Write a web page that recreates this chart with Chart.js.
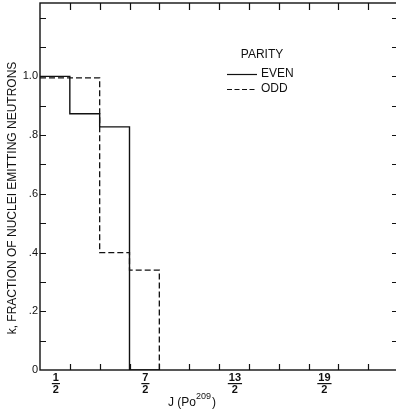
<!DOCTYPE html>
<html>
<head>
<meta charset="utf-8">
<script src="https://cdn.jsdelivr.net/npm/chart.js@4.4.1/dist/chart.umd.min.js"></script>
<style>
  html, body { margin: 0; padding: 0; background: #fff; overflow: hidden; }
  #wrap { position: absolute; left: 0; top: 0; width: 400px; height: 410px; }
</style>
</head>
<body>
<div id="wrap"><canvas id="myChart"></canvas></div>
<script>
// J values (bin centres) and fraction k for each parity
const jValues = [0.5, 1.5, 2.5, 3.5];
const evenK = [1.0, 0.873, 0.828, 0];
const oddK = [0.995, 0.995, 0.40, 0.34];

const yTickValues = [0, 0.2, 0.4, 0.6, 0.8, 1.0];
const yTickLabels = ['0', '.2', '.4', '.6', '.8', '1.0'];
const xTickValues = [0.5, 3.5, 6.5, 9.5];
const xTickNum = ['1', '7', '13', '19'];
const xTickDen = ['2', '2', '2', '2'];

const ink = '#111';
const font = '"Liberation Sans", Arial, sans-serif';

// histogram outline: each bin spans J-1/2 .. J+1/2, then drop to zero
function stepPoints(js, ks) {
    let pts = [];
    for (let i = 0; i < js.length; i++) {
        pts.push({x: js[i] - 0.5, y: ks[i]});
        pts.push({x: js[i] + 0.5, y: ks[i]});
    }
    pts.push({x: js[js.length - 1] + 0.5, y: 0});
    return pts;
}

const decorations = {
    id: 'decorations',
    afterDraw(chart) {
        const c = chart.ctx;
        const xs = chart.scales.x, ys = chart.scales.y;
        const a = chart.chartArea;
        c.save();
        c.strokeStyle = ink;
        c.fillStyle = ink;
        c.lineWidth = 1.4;
        c.setLineDash([]);
        c.strokeRect(a.left, a.top, a.right - a.left, a.bottom - a.top);

        // inward ticks
        c.lineWidth = 1.2;
        c.beginPath();
        for (let i = 1; i <= 12; i++) {
            let v = i / 10;
            let py = Math.round(ys.getPixelForValue(v)) + 0.5;
            c.moveTo(a.left, py); c.lineTo(a.left + 6, py);
            c.moveTo(a.right, py); c.lineTo(a.right - 6, py);
        }
        for (let i = 1; i < 12; i++) {
            let px = Math.round(xs.getPixelForValue(i)) + 0.5;
            c.moveTo(px, a.bottom); c.lineTo(px, a.bottom - 6);
            c.moveTo(px, a.top); c.lineTo(px, a.top + 7);
        }
        c.stroke();

        // fraction tick labels
        c.font = 'bold 11px ' + font;
        c.textAlign = 'center';
        c.textBaseline = 'middle';
        for (let i = 0; i < xTickValues.length; i++) {
            let px = xs.getPixelForValue(xTickValues[i]) + 1;
            let w = Math.max(c.measureText(xTickNum[i]).width, c.measureText(xTickDen[i]).width) + 2;
            c.fillText(xTickNum[i], px, a.bottom + 8);
            c.fillRect(px - w / 2, a.bottom + 13, w, 1.2);
            c.fillText(xTickDen[i], px, a.bottom + 20);
        }

        // x title with superscript
        c.textAlign = 'left';
        c.textBaseline = 'alphabetic';
        c.font = '12px ' + font;
        let tx = 168, ty = 406;
        c.fillText('J (Po', tx, ty);
        tx += c.measureText('J (Po').width;
        c.font = '9px ' + font;
        c.fillText('209', tx, ty - 7);
        tx += c.measureText('209').width + 1;
        c.font = '12px ' + font;
        c.fillText(')', tx, ty);

        // y title
        c.save();
        c.translate(13, 198);
        c.rotate(-Math.PI / 2);
        c.textAlign = 'center';
        c.textBaseline = 'middle';
        c.font = '12px ' + font;
        c.fillText('k, FRACTION OF NUCLEI EMITTING NEUTRONS', 0, 0);
        c.restore();

        // legend
        c.font = '12px ' + font;
        c.textAlign = 'center';
        c.textBaseline = 'middle';
        c.fillText('PARITY', 262, 55);
        c.textAlign = 'left';
        c.fillText('EVEN', 261, 74);
        c.fillText('ODD', 261, 89);
        c.lineWidth = 1.2;
        c.beginPath();
        c.moveTo(227, 74.5); c.lineTo(257, 74.5);
        c.stroke();
        c.setLineDash([5, 2.5]);
        c.beginPath();
        c.moveTo(227, 89.5); c.lineTo(257, 89.5);
        c.stroke();
        c.restore();
    }
};

const ctx = document.getElementById('myChart');

new Chart(ctx, {
    type: 'scatter',
    data: {
        datasets: [{
            label: 'EVEN',
            data: stepPoints(jValues, evenK),
            showLine: true,
            borderColor: ink,
            borderWidth: 1.4,
            pointRadius: 0,
            tension: 0,
        }, {
            label: 'ODD',
            data: stepPoints(jValues, oddK),
            showLine: true,
            borderColor: ink,
            borderWidth: 1.3,
            borderDash: [6, 3],
            pointRadius: 0,
            tension: 0,
        }]
    },
    options: {
        responsive: true,
        maintainAspectRatio: false,
        animation: false,
        layout: { padding: { top: 3, right: 2, left: 0, bottom: 0 } },
        plugins: {
            legend: { display: false },
            tooltip: { enabled: false },
        },
        scales: {
            x: {
                type: 'linear',
                min: 0,
                max: 12,
                ticks: { display: false },
                grid: { display: false, drawTicks: false },
                border: { display: false },
                afterFit: (s) => { s.height = 40; s.paddingLeft = 0; s.paddingRight = 0; },
            },
            y: {
                min: 0,
                max: 1.25,
                afterBuildTicks: (s) => { s.ticks = yTickValues.map((v) => ({value: v})); },
                ticks: {
                    color: ink,
                    padding: 2,
                    font: { family: font, size: 11 },
                    callback: (v, i) => yTickLabels[i],
                },
                grid: { display: false, drawTicks: false },
                border: { display: false },
                afterFit: (s) => { s.width = 40; s.paddingTop = 0; s.paddingBottom = 0; },
            }
        }
    },
    plugins: [decorations]
});
</script>
</body>
</html>
